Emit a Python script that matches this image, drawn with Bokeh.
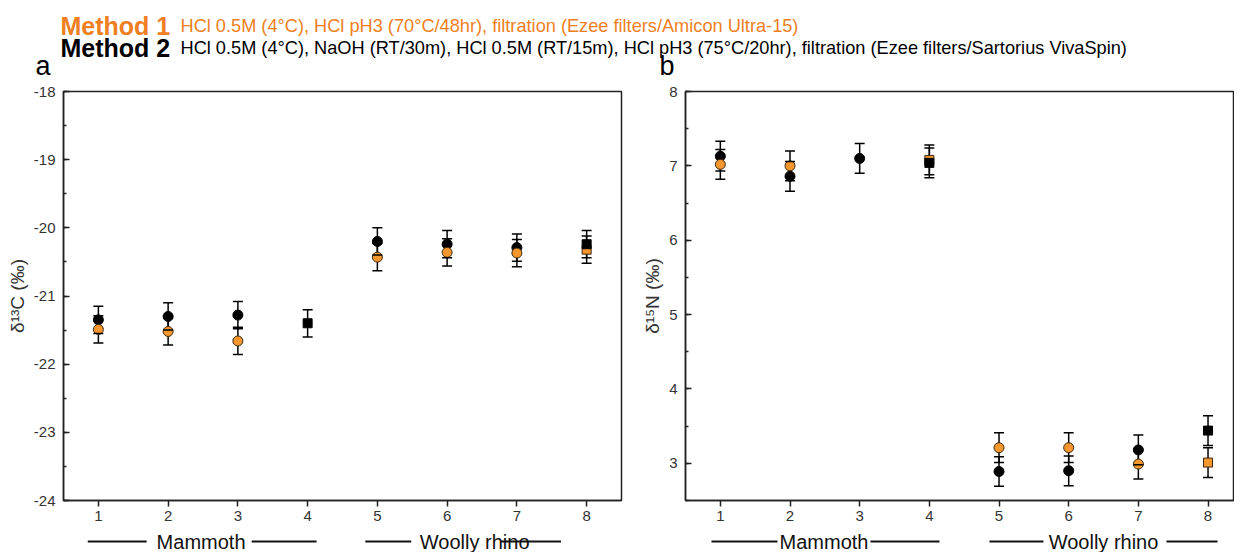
from bokeh.plotting import figure
from bokeh.layouts import column, row
from bokeh.models import Range1d, FixedTicker, SingleIntervalTicker, PrintfTickFormatter
from bokeh.core.properties import value
from bokeh.embed import file_html
from bokeh.resources import INLINE
import numpy as np

# ---------------- data ----------------
samples = [1, 2, 3, 4, 5, 6, 7, 8]
is_square = [False, False, False, True, False, False, False, True]
groups = ["Mammoth", "Woolly rhino"]

d13c_m1 = [-21.49, -21.52, -21.66, np.nan, -20.43, -20.36, -20.37, -20.32]
d13c_m2 = [-21.35, -21.30, -21.28, -21.40, -20.20, -20.24, -20.29, -20.24]
d13c_err_m1 = [0.2, 0.2, 0.2, 0.2, 0.2, 0.2, 0.2, 0.2]
d13c_err_m2 = [0.2, 0.2, 0.2, 0.2, 0.2, 0.2, 0.2, 0.2]

d15n_m1 = [7.02, 7.00, np.nan, 7.08, 3.21, 3.21, 2.99, 3.01]
d15n_m2 = [7.13, 6.86, 7.10, 7.04, 2.89, 2.90, 3.18, 3.44]
d15n_err_m1 = [0.2, 0.2, 0.2, 0.2, 0.2, 0.2, 0.2, 0.2]
d15n_err_m2 = [0.2, 0.2, 0.2, 0.2, 0.2, 0.2, 0.2, 0.2]

method1_title = "Method 1"
method1_text = "HCl 0.5M (4°C), HCl pH3 (70°C/48hr), filtration (Ezee filters/Amicon Ultra-15)"
method2_title = "Method 2"
method2_text = "HCl 0.5M (4°C), NaOH (RT/30m), HCl 0.5M (RT/15m), HCl pH3 (75°C/20hr), filtration (Ezee filters/Sartorius VivaSpin)"
panel_letters = ["a", "b"]

# ---------------- style ----------------
FONT = "Liberation Sans"
ORANGE_TXT = "#EE7F22"
ORANGE = "#F5962E"
BLACK = "#000000"
AXIS = "#222222"

def sel(vals, mask):
    return [v if m else np.nan for v, m in zip(vals, mask)]

def panel(width, mb_left, mb_right, xr, yr, ylabel, v1, e1, v2, e2, fmt=None):
    p = figure(width=width, height=446, x_range=Range1d(*xr), y_range=Range1d(*yr),
               toolbar_location=None, output_backend="svg",
               min_border_left=mb_left, min_border_right=mb_right,
               min_border_top=9, min_border_bottom=28)
    p.xgrid.visible = False
    p.ygrid.visible = False
    p.outline_line_color = AXIS
    p.outline_line_width = 1.5

    xa = p.xaxis[0]
    xa.ticker = FixedTicker(ticks=samples)
    xa.major_tick_in = 0
    xa.major_tick_out = 6
    xa.minor_tick_in = 0
    xa.minor_tick_out = 0
    xa.major_label_standoff = 4
    ya = p.yaxis[0]
    ya.ticker = SingleIntervalTicker(interval=1, num_minor_ticks=2)
    if fmt is not None:
        ya.formatter = fmt
    ya.major_tick_in = 6
    ya.major_tick_out = 0
    ya.minor_tick_in = 3
    ya.minor_tick_out = 0
    ya.major_label_standoff = 8
    ya.axis_label = ylabel
    ya.axis_label_standoff = 3
    ya.axis_label_text_font_style = "normal"
    ya.axis_label_text_font_size = "19px"
    ya.axis_label_text_font = FONT
    ya.axis_label_text_color = "#333333"
    for ax in (xa, ya):
        ax.axis_line_color = AXIS
        ax.axis_line_width = 1.5
        ax.major_tick_line_color = AXIS
        ax.major_tick_line_width = 1.5
        ax.minor_tick_line_color = AXIS
        ax.minor_tick_line_width = 1.5
        ax.major_label_text_font = FONT
        ax.major_label_text_font_size = "15px"
        ax.major_label_text_color = "#333333"

    lo1 = [v - e for v, e in zip(v1, e1)]
    hi1 = [v + e for v, e in zip(v1, e1)]
    lo2 = [v - e for v, e in zip(v2, e2)]
    hi2 = [v + e for v, e in zip(v2, e2)]

    p.segment(samples, lo2, samples, hi2, line_color=BLACK, line_width=1.5)
    p.segment(samples, lo1, samples, hi1, line_color=BLACK, line_width=1.5)

    circ = [not s for s in is_square]
    p.scatter(samples, sel(v2, circ), marker="circle", size=10,
              fill_color=BLACK, line_color=BLACK, line_width=1)
    p.scatter(samples, sel(v1, circ), marker="circle", size=10,
              fill_color=ORANGE, line_color="#3a2a10", line_width=1)
    p.scatter(samples, sel(v1, is_square), marker="square", size=9,
              fill_color=ORANGE, line_color="#3a2a10", line_width=1)
    p.scatter(samples, sel(v2, is_square), marker="square", size=9,
              fill_color=BLACK, line_color=BLACK, line_width=1)

    for arr in (lo1, hi1, lo2, hi2):
        p.scatter(samples, arr, marker="dash", size=10, line_color=BLACK, line_width=1.5)
    return p

def footer(width, mb_left, mb_right, xr, text_x, line_x0, line_x1):
    f = figure(width=width, height=24, x_range=xr, y_range=Range1d(24, 0),
               toolbar_location=None, output_backend="svg",
               x_axis_type=None, y_axis_type=None,
               min_border_left=mb_left, min_border_right=mb_right,
               min_border_top=0, min_border_bottom=0)
    f.xgrid.visible = False
    f.ygrid.visible = False
    f.outline_line_color = None
    f.segment(x0=line_x0, y0=[13] * len(line_x0), x1=line_x1, y1=[13] * len(line_x1),
              line_color="#111111", line_width=2)
    f.text(x=text_x, y=[13] * len(text_x), text=groups, text_font=value(FONT),
           text_font_size="20px", text_color="#111111", text_align="center",
           text_baseline="middle")
    return f

p1 = panel(637, 63, 16, (0.5, 8.5), (-24, -18), "δ¹³C (‰)",
           d13c_m1, d13c_err_m1, d13c_m2, d13c_err_m2, fmt=PrintfTickFormatter(format="%d"))
p2 = panel(597, 48, 0, (0.5, 8.38), (2.5, 8), "δ¹⁵N (‰)",
           d15n_m1, d15n_err_m1, d15n_m2, d15n_err_m2)

f1 = footer(637, 63, 16, p1.x_range, [2.472, 6.395],
            [0.848, 3.198, 4.827, 6.773], [1.692, 4.128, 5.485, 7.632])
f2 = footer(597, 48, 0, p2.x_range, [2.488, 6.50],
            [0.873, 3.155, 4.863, 7.404], [1.820, 4.146, 5.638, 8.136])

# header (pixel-like coordinates: x = page x - 8, y = page y - 8)
h = figure(width=1234, height=82, x_range=Range1d(0, 1234), y_range=Range1d(82, 0),
           toolbar_location=None, output_backend="svg", x_axis_type=None, y_axis_type=None,
           min_border=0)
h.xgrid.visible = False
h.ygrid.visible = False
h.outline_line_color = None
h.text(x=[60], y=[25], text=[method1_title], text_font=value(FONT), text_font_style="bold",
       text_font_size="25px", text_color=ORANGE_TXT, text_baseline="alphabetic")
h.text(x=[180], y=[25], text=[method1_text], text_font=value(FONT),
       text_font_size="18.2px", text_color=ORANGE_TXT, text_baseline="alphabetic")
h.text(x=[60], y=[47], text=[method2_title], text_font=value(FONT), text_font_style="bold",
       text_font_size="25px", text_color=BLACK, text_baseline="alphabetic")
h.text(x=[180], y=[47], text=[method2_text], text_font=value(FONT),
       text_font_size="18.2px", text_color=BLACK, text_baseline="alphabetic")
h.text(x=[35, 659], y=[50, 50], text=panel_letters, text_font=value(FONT),
       text_font_size="27px", text_color=BLACK, text_baseline="top")

layout = column(h, row(p1, p2, spacing=0), row(f1, f2, spacing=0), spacing=0)
open("out.html", "w").write(file_html(layout, INLINE))
